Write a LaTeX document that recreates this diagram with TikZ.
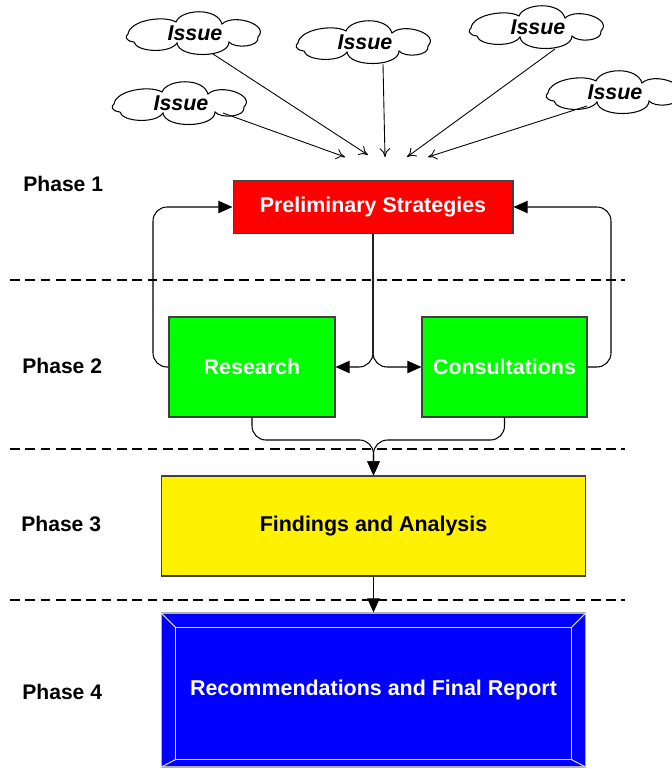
\documentclass[tikz,border=0pt]{standalone}
\usepackage{fontspec}
\setmainfont{Liberation Sans}
\usetikzlibrary{arrows.meta,calc}
\begin{document}
\begin{tikzpicture}[x=0.02cm,y=-0.02cm,
  lbl/.style={font=\fontsize{12}{14}\selectfont\bfseries,inner sep=0pt},
  box/.style={draw=black!75,line width=0.6pt,inner sep=0pt,font=\fontsize{12.2}{14}\selectfont\bfseries},
  issuetext/.style={font=\fontsize{12.2}{14}\selectfont\bfseries\itshape,inner sep=0pt},
  thin arr/.style={-{To[length=5pt,width=6pt]},line width=0.5pt},
  arr/.style={-{Triangle[length=8pt,width=7pt]},line width=0.6pt,rounded corners=8pt},
  sep/.style={dash pattern=on 5.5pt off 3.2pt,line width=1.2pt},
  issuecloud/.pic={
    \draw[line width=0.6pt,fill=white]
      (-66,0) .. controls (-64,-14) and (-30,-19) .. (-18,-12)
      .. controls (-13,-25) and (23,-27) .. (28,-10)
      .. controls (40,-21) and (76,-9) .. (64,3)
      .. controls (66,13) and (41,15) .. (35,8)
      .. controls (35,24) and (-15,25) .. (-17,9)
      .. controls (-24,20) and (-58,18) .. (-60,8)
      .. controls (-69,7) and (-69,2) .. (-66,0) -- cycle;
    \node[issuetext] (-t) at (1,-1) {Issue};
  }
]
\useasboundingbox (0,0) rectangle (672,769);

% separators
\draw[sep] (10,280) -- (625,280);
\draw[sep] (10,449) -- (625,449);
\draw[sep] (10,600) -- (625,600);

% phase labels
\node[lbl,anchor=west] (p1) at (23,184) {Phase 1};
\node[lbl,anchor=west] (p2) at (22,366) {Phase 2};
\node[lbl,anchor=west] (p3) at (21,524) {Phase 3};
\node[lbl,anchor=west] (p4) at (22,692) {Phase 4};

% boxes
\node[box,fill=red,text=white,minimum width=5.6cm,minimum height=1.06cm] (prelim) at (373,207) {Preliminary Strategies};
\node[box,fill=green,text=white,minimum width=3.32cm,minimum height=2cm] (research) at (252,367) {Research};
\node[box,fill=green,text=white,minimum width=3.3cm,minimum height=2cm] (consult) at (504.5,367) {Consultations};
\node[box,fill=yellow,text=black,minimum width=8.5cm,minimum height=2cm] (findings) at (373.5,526) {Findings and Analysis};
\node[box,draw=black!30,fill=blue,text=white,minimum width=8.5cm,minimum height=3.08cm] (recomm) at (373.5,690) {Recommendations and Final Report};
% bevel
\coordinate (i1) at ($(recomm.north west)+(15,15)$);
\coordinate (i2) at ($(recomm.north east)+(-15,15)$);
\coordinate (i3) at ($(recomm.south east)+(-15,-8)$);
\coordinate (i4) at ($(recomm.south west)+(15,-8)$);
\draw[white!85!blue,line width=0.6pt] (i1) -- (i2) -- (i3) -- (i4) -- cycle;
\draw[white!85!blue,line width=0.6pt] (recomm.north west) -- (i1) (recomm.north east) -- (i2)
  (recomm.south east) -- (i3) (recomm.south west) -- (i4);

% clouds
\pic (c1) at (194,34) {issuecloud};
\pic (c2) at (180,104) {issuecloud};
\pic (c3) at (364,43) {issuecloud};
\pic (c4) at (537,28) {issuecloud};
\pic (c5) at (614,93) {issuecloud};

\coordinate (s1) at (213,54);
\coordinate (s2) at (223,113);
\coordinate (s3) at (383,64);
\coordinate (s4) at (555,49);
\coordinate (s5) at (587,106);
\coordinate (t1) at (368,155);
\coordinate (t2) at (345,157);
\coordinate (t3) at (385,157);
\coordinate (t4) at (407,157);
\coordinate (t5) at (428,157);
\draw[thin arr] (s1) -- (t1);
\draw[thin arr] (s2) -- (t2);
\draw[thin arr] (s3) -- (t3);
\draw[thin arr] (s4) -- (t4);
\draw[thin arr] (s5) -- (t5);

% loops
\coordinate (lt) at (153,207);
\coordinate (rt) at (611,207);
\draw[arr] (research.west) -| (lt) -- (prelim.west);
\draw[arr] (consult.east) -| (rt) -- (prelim.east);
\draw[arr] (prelim.south) |- (research.east);
\draw[arr] (prelim.south) |- (consult.west);

% merge
\coordinate (m) at (373.5,440);
\draw[arr] (research.south) |- (m) -- (findings.north);
\draw[arr] (consult.south) |- (m) -- (findings.north);
\draw[arr] (findings.south) -- (recomm.north);
\end{tikzpicture}
\end{document}
